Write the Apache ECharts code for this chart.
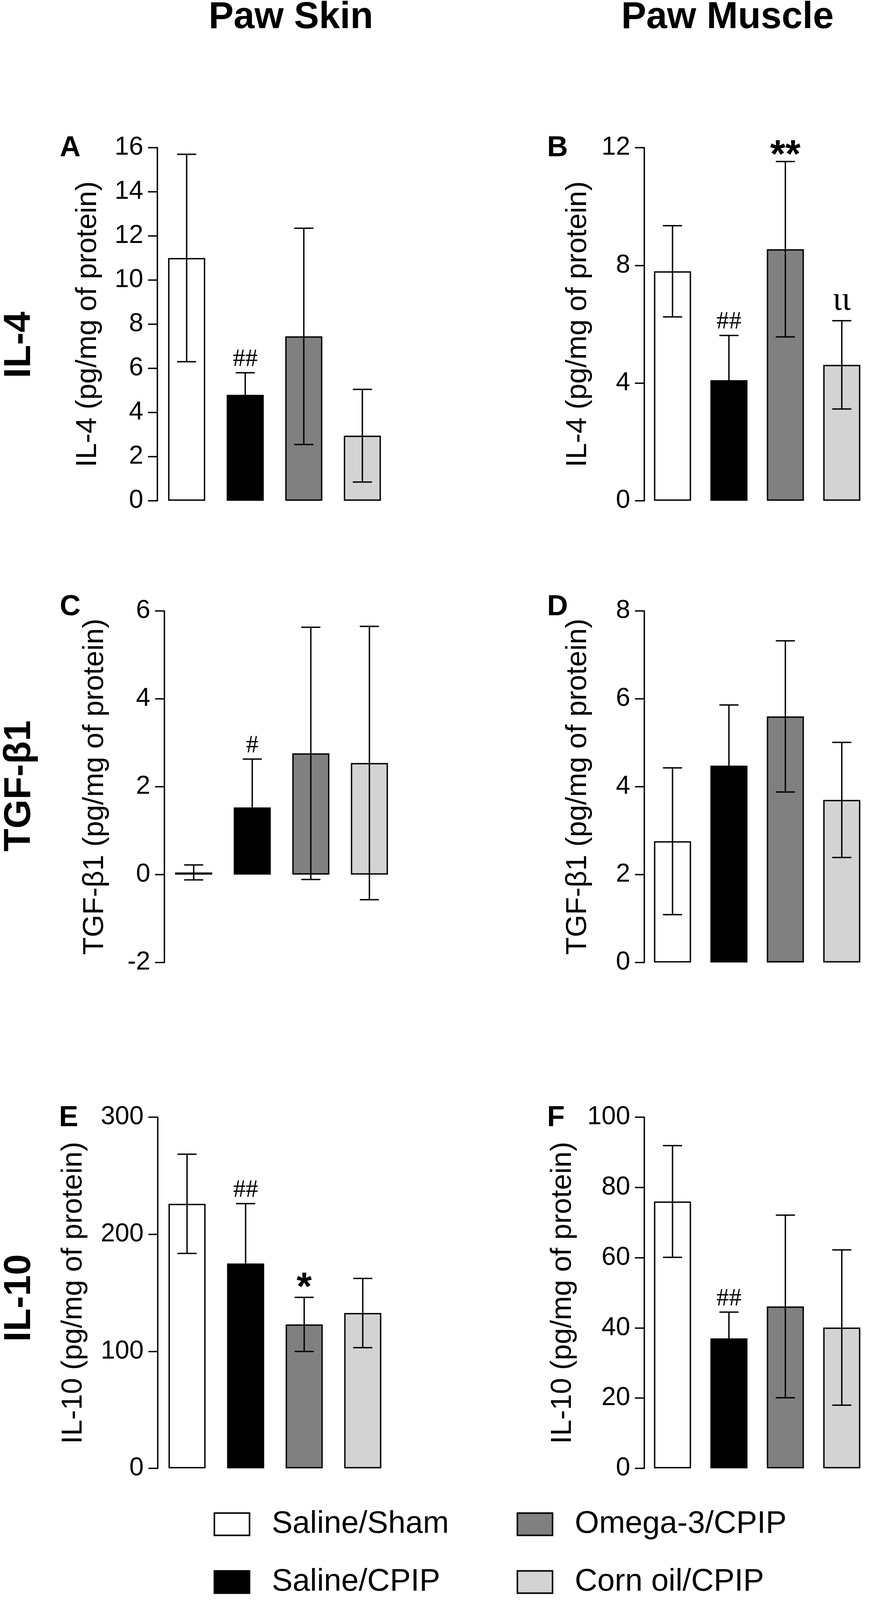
<!DOCTYPE html>
<html>
<head>
<meta charset="utf-8">
<script src="https://cdn.jsdelivr.net/npm/echarts@6/dist/echarts.min.js"></script>
<style>
  html, body { margin: 0; padding: 0; background: #fff; overflow: hidden; }
  #chart { width: 100vw; height: 100vh; }
</style>
</head>
<body>
<div id="chart"></div>
<script>
// groups (same order in every panel)
const groups = ['Saline/Sham', 'Saline/CPIP', 'Omega-3/CPIP', 'Corn oil/CPIP'];

// A – IL-4, paw skin
const il4SkinMean = [11.0, 4.8, 7.45, 2.95];
const il4SkinSd = [4.7, 1.0, 4.9, 2.1];
const il4SkinMarks = ['', '##', '', ''];
const il4SkinAxis = [0, 16, 2];

// B – IL-4, paw muscle
const il4MuscleMean = [7.8, 4.1, 8.55, 4.62];
const il4MuscleSd = [1.55, 1.52, 2.98, 1.5];
const il4MuscleMarks = ['', '##', '**', 'ιι'];
const il4MuscleAxis = [0, 12, 4];

// C – TGF-β1, paw skin
const tgfSkinMean = [0.05, 1.53, 2.76, 2.54];
const tgfSkinSd = [0.17, 1.1, 2.87, 3.11];
const tgfSkinMarks = ['', '#', '', ''];
const tgfSkinAxis = [-2, 6, 2];

// D – TGF-β1, paw muscle
const tgfMuscleMean = [2.76, 4.48, 5.6, 3.7];
const tgfMuscleSd = [1.67, 1.38, 1.72, 1.31];
const tgfMuscleMarks = ['', '', '', ''];
const tgfMuscleAxis = [0, 8, 2];

// E – IL-10, paw skin
const il10SkinMean = [226, 175, 123, 132.7];
const il10SkinSd = [42.4, 51.2, 23.1, 29.6];
const il10SkinMarks = ['', '##', '*', ''];
const il10SkinAxis = [0, 300, 100];

// F – IL-10, paw muscle
const il10MuscleMean = [76, 37, 46.1, 40.1];
const il10MuscleSd = [15.9, 7.5, 26, 22.1];
const il10MuscleMarks = ['', '##', '', ''];
const il10MuscleAxis = [0, 100, 20];

const SANS = '"Liberation Sans", Arial, Helvetica, sans-serif';
const SERIF = '"Liberation Serif", "Times New Roman", serif';
const FILLS = ['#ffffff', '#000000', '#808080', '#d3d3d3'];
const LW = 3.5;

// panel layout: grid box, axis name and its gap
const panels = [
  { mean: il4SkinMean, sd: il4SkinSd, marks: il4SkinMarks, axis: il4SkinAxis,
    name: 'IL-4 (pg/mg of protein)', left: 403, top: 378, height: 904, gap: 140 },
  { mean: il4MuscleMean, sd: il4MuscleSd, marks: il4MuscleMarks, axis: il4MuscleAxis,
    name: 'IL-4 (pg/mg of protein)', left: 1650, top: 378, height: 904, gap: 132 },
  { mean: tgfSkinMean, sd: tgfSkinSd, marks: tgfSkinMarks, axis: tgfSkinAxis,
    name: 'TGF-β1 (pg/mg of protein)', left: 421, top: 1564, height: 900, gap: 140 },
  { mean: tgfMuscleMean, sd: tgfMuscleSd, marks: tgfMuscleMarks, axis: tgfMuscleAxis,
    name: 'TGF-β1 (pg/mg of protein)', left: 1650, top: 1564, height: 900, gap: 132 },
  { mean: il10SkinMean, sd: il10SkinSd, marks: il10SkinMarks, axis: il10SkinAxis,
    name: 'IL-10 (pg/mg of protein)', left: 404, top: 2860, height: 899, gap: 178 },
  { mean: il10MuscleMean, sd: il10MuscleSd, marks: il10MuscleMarks, axis: il10MuscleAxis,
    name: 'IL-10 (pg/mg of protein)', left: 1650, top: 2860, height: 899, gap: 171 }
];

// significance symbols: font and offset from the whisker cap
function markStyle(m) {
  if (m === '**') return { font: 'bold 100px ' + SANS, dy: 37 };
  if (m === '*') return { font: 'bold 100px ' + SANS, dy: 28 };
  if (m === 'ιι') return { font: '86px ' + SERIF, dy: -8 };
  return { font: '64px ' + SERIF, dy: -2 };
}

const grid = [], xAxis = [], yAxis = [], series = [];

panels.forEach((p, k) => {
  grid.push({ left: p.left, top: p.top, width: 600, height: p.height });
  xAxis.push({ gridIndex: k, type: 'category', data: groups, show: false });
  yAxis.push({
    gridIndex: k, type: 'value',
    min: p.axis[0], max: p.axis[1], interval: p.axis[2],
    axisLine: { show: true, lineStyle: { color: '#000', width: LW } },
    axisTick: { show: true, length: 24, lineStyle: { color: '#000', width: LW } },
    axisLabel: { color: '#000', fontSize: 66, fontFamily: SANS, margin: 36 },
    splitLine: { show: false },
    name: p.name, nameLocation: 'middle', nameGap: p.gap,
    nameTextStyle: { color: '#000', fontSize: 74, fontFamily: SANS }
  });

  groups.forEach((g, i) => {
    series.push({
      name: g, type: 'bar', xAxisIndex: k, yAxisIndex: k,
      barWidth: 95, barGap: '-100%',
      data: p.mean.map((v, j) => (j === i ? v : '-')),
      itemStyle: { color: FILLS[i], borderColor: '#000', borderWidth: LW }
    });
  });

  series.push({
    type: 'custom', xAxisIndex: k, yAxisIndex: k, z: 5, clip: false,
    data: p.mean.map((v, i) => [i, v - p.sd[i], v + p.sd[i]]),
    renderItem: (params, api) => {
      const i = api.value(0);
      const hi = api.coord([i, api.value(2)]);
      const lo = api.coord([i, api.value(1)]);
      const w = 24.5;
      const st = { stroke: '#000', lineWidth: LW };
      const children = [
        { type: 'line', shape: { x1: hi[0], y1: hi[1], x2: lo[0], y2: lo[1] }, style: st },
        { type: 'line', shape: { x1: hi[0] - w, y1: hi[1], x2: hi[0] + w, y2: hi[1] }, style: st },
        { type: 'line', shape: { x1: lo[0] - w, y1: lo[1], x2: lo[0] + w, y2: lo[1] }, style: st }
      ];
      const m = p.marks[params.dataIndex];
      if (m) {
        const ms = markStyle(m);
        children.push({
          type: 'text', x: hi[0], y: hi[1] + ms.dy,
          style: {
            text: m, font: ms.font, fill: '#000',
            align: 'center', verticalAlign: 'bottom',
            textAlign: 'center', textVerticalAlign: 'bottom'
          }
        });
      }
      return { type: 'group', children };
    }
  });
});

function txt(text, x, y, font, rot, align) {
  return {
    type: 'text', x, y, rotation: rot || 0,
    style: {
      text, font, fill: '#000',
      align: align || 'center', verticalAlign: 'middle',
      textAlign: align || 'center', textVerticalAlign: 'middle'
    }
  };
}

const big = 'bold 96px ' + SANS;
const letterFont = 'bold 74px ' + SANS;
const graphic = [
  txt('Paw Skin', 745, 46, big),
  txt('Paw Muscle', 1863, 46, big),
  txt('IL-4', 51, 883, big, Math.PI / 2),
  txt('TGF-β1', 51, 2012, big, Math.PI / 2),
  txt('IL-10', 51, 3323, big, Math.PI / 2),
  txt('A', 153, 380, letterFont, 0, 'left'),
  txt('B', 1401, 380, letterFont, 0, 'left'),
  txt('C', 153, 1555, letterFont, 0, 'left'),
  txt('D', 1401, 1555, letterFont, 0, 'left'),
  txt('E', 151, 2863, letterFont, 0, 'left'),
  txt('F', 1401, 2863, letterFont, 0, 'left')
];

// two legend columns of two entries each, anchored to the bottom edge
function legendCol(names, left) {
  return {
    data: names, left, bottom: 6, padding: 0,
    orient: 'vertical', itemGap: 68,
    icon: 'rect', itemWidth: 90, itemHeight: 57,
    selectedMode: false,
    itemStyle: { borderColor: '#000', borderWidth: 4 },
    textStyle: {
      color: '#000', fontSize: 80, lineHeight: 57, height: 57,
      fontFamily: SANS, padding: [0, 0, 0, 52]
    }
  };
}

const chart = echarts.init(document.getElementById('chart'), null, { renderer: 'canvas' });
chart.setOption({
  animation: false,
  backgroundColor: '#fff',
  grid, xAxis, yAxis, series, graphic,
  legend: [legendCol([groups[0], groups[1]], 547), legendCol([groups[2], groups[3]], 1323)]
});
</script>
</body>
</html>
